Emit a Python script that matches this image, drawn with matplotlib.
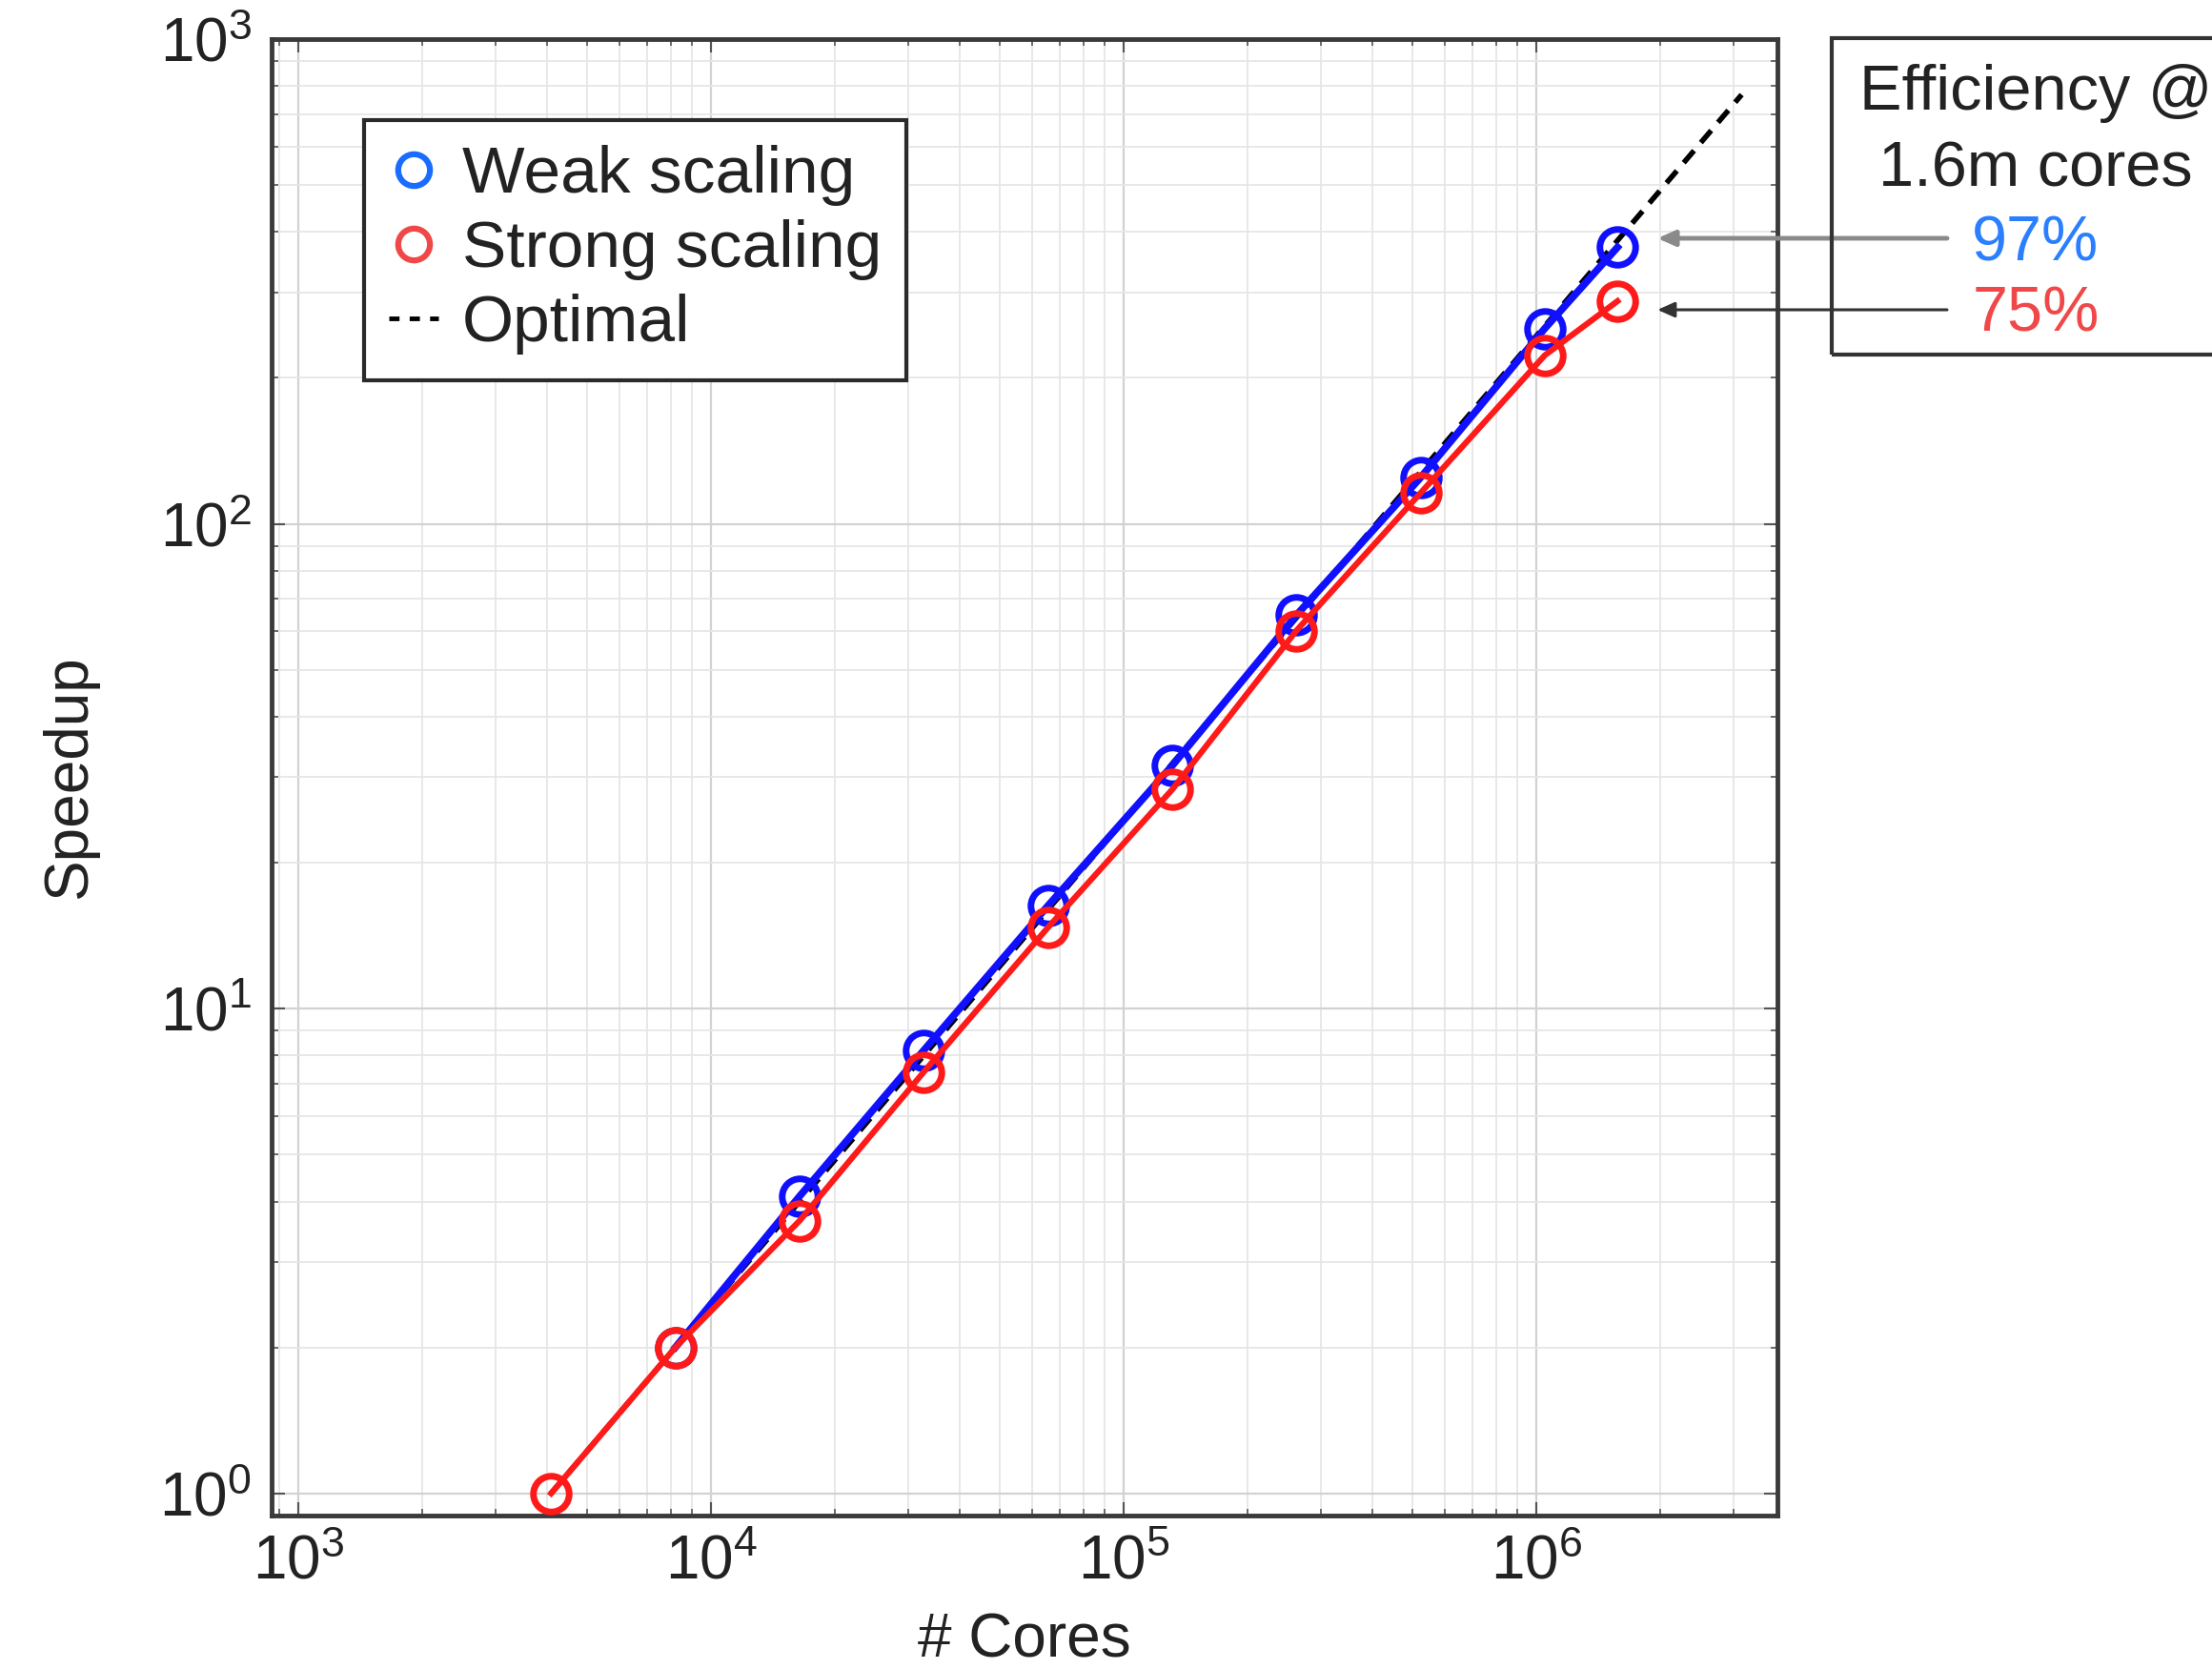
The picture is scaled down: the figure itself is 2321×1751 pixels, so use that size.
import numpy as np
import matplotlib
matplotlib.use("Agg")
import matplotlib.pyplot as plt
from matplotlib.lines import Line2D
from matplotlib.patches import Rectangle

# data
cores = [4096, 8192, 16384, 32768, 65536, 131072, 262144, 524288, 1048576, 1572864]
strong = [1, 2, 3.65, 7.4, 14.7, 28.3, 60.2, 115.8, 222.7, 288]
weak_cores = [8192, 16384, 32768, 65536, 131072, 262144, 524288, 1048576, 1572864]
weak = [2, 4.1, 8.2, 16.3, 31.7, 64.8, 124.6, 253, 372]
opt_cores = [4096, 3145728]
opt_speedup = [1, 768]
eff_labels = ["97%", "75%"]

plt.rcParams['font.family'] = ['Liberation Sans', 'DejaVu Sans']
plt.rcParams['mathtext.fontset'] = 'custom'
plt.rcParams['mathtext.rm'] = 'Liberation Sans'
plt.rcParams['mathtext.it'] = 'Liberation Sans:italic'

W, H = 2321, 1751
fig = plt.figure(figsize=(W / 100, H / 100), dpi=100)
ax = fig.add_axes([285 / W, 1 - 1590 / H, (1865 - 285) / W, (1590 - 41) / H])

ax.set_xscale('log')
ax.set_yscale('log')
ax.set_xlim(861, 3.84e6)
ax.set_ylim(0.9, 1000)

ax.grid(True, which='major', color='#d2d2d2', linewidth=1.6)
ax.grid(True, which='minor', color='#e6e6e6', linewidth=1.3)
ax.set_axisbelow(True)

ax.plot(opt_cores, opt_speedup, color='black', linestyle='--', linewidth=4,
        dashes=(3, 2), zorder=2)
ax.plot(weak_cores, weak, color='#1010ff', linewidth=5.5, marker='o', markersize=27,
        markerfacecolor='none', markeredgewidth=5, zorder=3)
ax.plot(cores, strong, color='#ff1a1a', linewidth=4.5, marker='o', markersize=27,
        markerfacecolor='none', markeredgewidth=5, zorder=4)

for s in ax.spines.values():
    s.set_color('#3a3a3a')
    s.set_linewidth(3.5)

ax.tick_params(which='both', direction='in', top=True, right=True, colors='#555555',
               labelcolor='#222222', labelsize=46)
ax.tick_params(which='major', length=10, width=1.5)
ax.tick_params(which='minor', length=5, width=1.2)
ax.tick_params(axis='x', pad=14)
ax.tick_params(axis='y', pad=15)

ax.set_xlabel('# Cores', fontsize=46, color='#222222', labelpad=16)
ax.set_ylabel('Speedup', fontsize=46, color='#222222', labelpad=46)

# legend
handles = [
    Line2D([], [], linestyle='none', marker='o', markersize=24, markerfacecolor='none',
           markeredgecolor='#1a6cff', markeredgewidth=4.5),
    Line2D([], [], linestyle='none', marker='o', markersize=24, markerfacecolor='none',
           markeredgecolor='#f04848', markeredgewidth=4.5),
    Line2D([], [], color='black', linestyle='--', linewidth=3.5, dashes=(2.2, 2.2)),
]
leg = ax.legend(handles, ['Weak scaling', 'Strong scaling', 'Optimal'],
                loc='upper left', bbox_to_anchor=((382 - 285) / 1580, (1590 - 126) / 1549),
                borderaxespad=0, fontsize=50, handlelength=0.75, handletextpad=0.35,
                labelspacing=0.2, borderpad=0.38, fancybox=False, framealpha=1)
leg.get_frame().set_edgecolor('#2a2a2a')
leg.get_frame().set_linewidth(3)
for t in leg.get_texts():
    t.set_color('#222222')

# efficiency box outside the axes
fig.patches.append(Rectangle((1922 / W, 1 - 372 / H), (2400 - 1922) / W, 332 / H,
                             transform=fig.transFigure, fill=False,
                             edgecolor='#333333', linewidth=3))
cx = 2136 / W
fig.text(cx, 1 - 115 / H, 'Efficiency @', ha='center', va='baseline', fontsize=48, color='#222222')
fig.text(cx, 1 - 195 / H, '1.6m cores', ha='center', va='baseline', fontsize=48, color='#222222')
fig.text(cx, 1 - 273 / H, eff_labels[0], ha='center', va='baseline', fontsize=48, color='#2a7fff')
fig.text(cx, 1 - 348 / H, eff_labels[1], ha='center', va='baseline', fontsize=48, color='#f04848')

for yy, col, lw in [(250, '#8a8a8a', 3.5), (325, '#333333', 2.2)]:
    ax.annotate('', xy=(cores[-1] * 1.25, 1 - yy / H), xycoords=('data', 'figure fraction'),
                xytext=(2043 / W, 1 - yy / H), textcoords='figure fraction',
                arrowprops=dict(arrowstyle='-|>,head_length=0.9,head_width=0.4',
                                mutation_scale=12, color=col, lw=lw,
                                shrinkA=0, shrinkB=0),
                annotation_clip=False)

fig.savefig('out.png', dpi=100)
